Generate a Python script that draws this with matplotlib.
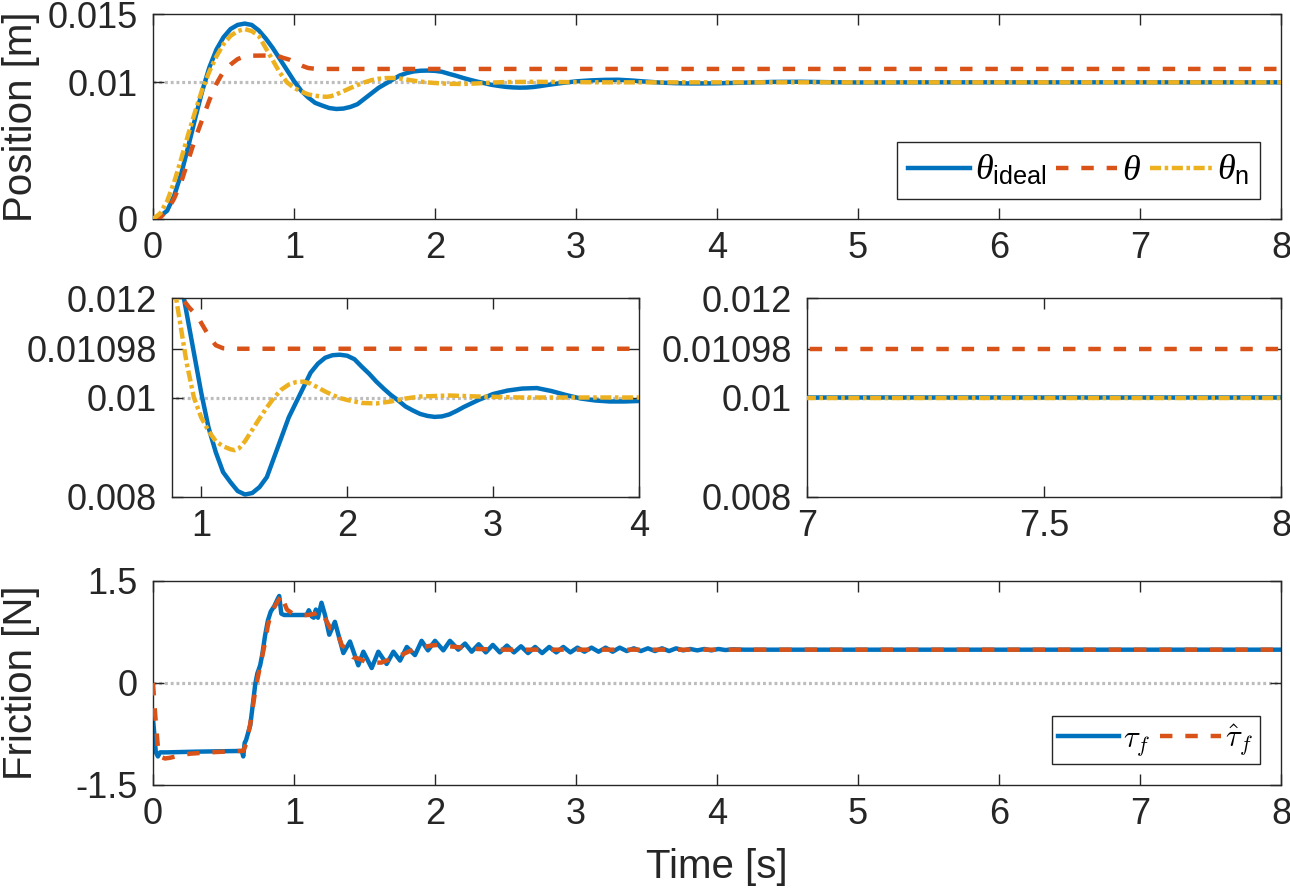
import matplotlib
matplotlib.use("Agg")
import matplotlib.pyplot as plt
from matplotlib.font_manager import FontProperties

# ---------------- data ----------------
t_ideal = [0.00, 0.05, 0.10, 0.15, 0.20, 0.25, 0.30, 0.35, 0.40, 0.45, 0.50, 0.55, 0.60, 0.65,
           0.70, 0.75, 0.80, 0.85, 0.90, 0.95, 1.00, 1.05, 1.10, 1.15, 1.20, 1.25, 1.30, 1.35,
           1.40, 1.45, 1.50, 1.55, 1.60, 1.65, 1.70, 1.75, 1.80, 1.85, 1.90, 1.95, 2.00, 2.05,
           2.10, 2.15, 2.20, 2.25, 2.30, 2.35, 2.40, 2.45, 2.50, 2.55, 2.60, 2.65, 2.70, 2.75,
           2.80, 2.90, 3.00, 3.10, 3.20, 3.30, 3.40, 3.50, 3.60, 3.70, 3.80, 3.90, 4.00, 4.20,
           4.40, 4.60, 4.80, 5.00, 5.50, 8.00]
theta_ideal = [0.0000, 0.0002, 0.0006, 0.0017, 0.0033, 0.0053, 0.0074, 0.0094, 0.0111, 0.0124,
               0.0133, 0.0139, 0.0142, 0.0143, 0.0142, 0.0138, 0.0132, 0.0125, 0.0117, 0.0109,
               0.0101, 0.0094, 0.0089, 0.0085, 0.0083, 0.00812, 0.00805, 0.00808, 0.0082, 0.0084,
               0.0088, 0.0092, 0.0096, 0.0099, 0.0102, 0.0105, 0.01068, 0.0108, 0.01085, 0.01086,
               0.01084, 0.01077, 0.01062, 0.01048, 0.01032, 0.01018, 0.01005, 0.00994, 0.00982,
               0.00974, 0.00967, 0.00963, 0.00961, 0.00962, 0.00966, 0.00973, 0.00981, 0.00995,
               0.01007, 0.01014, 0.01018, 0.01019, 0.01013, 0.01005, 0.00998, 0.00994, 0.00992,
               0.00992, 0.00993, 0.00998, 0.01003, 0.01004, 0.01001, 0.00999, 0.01000, 0.01000]

t_theta = [0.00, 0.05, 0.10, 0.15, 0.20, 0.25, 0.30, 0.35, 0.40, 0.45, 0.50, 0.55, 0.60, 0.65,
           0.70, 0.80, 0.88, 0.92, 0.97, 1.02, 1.06, 1.10, 1.15, 1.20, 8.00]
theta = [0.0000, 0.0001, 0.0006, 0.0015, 0.0027, 0.0043, 0.0059, 0.0073, 0.0087, 0.0099, 0.0108,
         0.0113, 0.0117, 0.0119, 0.01195, 0.01196, 0.01195, 0.0118, 0.01165, 0.0114, 0.0112,
         0.01105, 0.01099, 0.01098, 0.01098]

t_n = [0.00, 0.05, 0.10, 0.15, 0.20, 0.25, 0.30, 0.35, 0.40, 0.45, 0.50, 0.55, 0.60, 0.65, 0.70,
       0.75, 0.80, 0.85, 0.90, 0.95, 1.00, 1.05, 1.10, 1.15, 1.20, 1.23, 1.26, 1.30, 1.35, 1.40,
       1.45, 1.50, 1.55, 1.60, 1.65, 1.70, 1.75, 1.80, 1.85, 1.90, 1.95, 2.00, 2.10, 2.20, 2.30,
       2.40, 2.50, 2.70, 2.90, 3.20, 8.00]
theta_n = [0.0000, 0.0004, 0.0013, 0.0027, 0.0044, 0.0062, 0.0079, 0.0095, 0.0108, 0.0119,
           0.0128, 0.0134, 0.01375, 0.0139, 0.01375, 0.0134, 0.0125, 0.0116, 0.0107, 0.0100,
           0.0096, 0.00933, 0.00912, 0.00902, 0.00896, 0.00894, 0.00898, 0.00912, 0.00935,
           0.00958, 0.00980, 0.01000, 0.01016, 0.01026, 0.01031, 0.01032, 0.01028, 0.01020,
           0.01012, 0.01005, 0.00999, 0.00995, 0.00989, 0.00988, 0.00992, 0.00998, 0.01002,
           0.01004, 0.01002, 0.01000, 0.01000]

theta_ref = 0.01

t_fric = [0.000, 0.020, 0.035, 0.050, 0.100, 0.300, 0.600, 0.630, 0.640, 0.650, 0.660, 0.690,
          0.710, 0.725, 0.740, 0.760, 0.775, 0.795, 0.815, 0.835, 0.860, 0.885, 0.895, 0.910,
          0.930, 1.090, 1.105, 1.125, 1.140, 1.155, 1.170, 1.195, 1.220, 1.250, 1.290, 1.350,
          1.397, 1.456, 1.492, 1.551, 1.598, 1.657, 1.705, 1.752, 1.800, 1.858, 1.905, 1.950,
          2.000, 2.059, 2.106, 2.165, 2.213, 2.260, 2.310, 2.360, 2.410, 2.460, 2.510, 2.560,
          2.610, 2.660, 2.710, 2.760, 2.810, 2.860, 2.910, 2.960, 3.010, 3.060, 3.110, 3.160,
          3.210, 3.260, 3.310, 3.360, 3.410, 3.460, 3.510, 3.560, 3.610, 3.660, 3.710, 3.760,
          3.810, 3.860, 3.910, 3.960, 4.010, 4.060, 4.110, 4.200, 8.000]
tau_f = [-0.52, -1.02, -1.08, -1.02, -1.02, -1.01, -1.00, -1.00, -1.08, -0.88, -0.84, -0.62,
         -0.28, -0.02, 0.14, 0.26, 0.42, 0.70, 0.92, 1.05, 1.13, 1.24, 1.28, 1.02,
         1.00, 1.00, 1.07, 0.98, 0.96, 1.08, 0.96, 1.18, 1.00, 0.71, 0.90, 0.44,
         0.61, 0.26, 0.46, 0.22, 0.46, 0.28, 0.46, 0.33, 0.53, 0.41, 0.62, 0.48,
         0.62, 0.48, 0.62, 0.49, 0.58, 0.46, 0.57, 0.45, 0.56, 0.45, 0.55, 0.45,
         0.54, 0.44, 0.53, 0.44, 0.53, 0.45, 0.53, 0.45, 0.52, 0.46, 0.52, 0.46,
         0.52, 0.46, 0.52, 0.47, 0.51, 0.47, 0.51, 0.47, 0.51, 0.47, 0.51, 0.48,
         0.50, 0.48, 0.50, 0.48, 0.50, 0.485, 0.495, 0.49, 0.49]

t_hat = [0.000, 0.015, 0.035, 0.060, 0.085, 0.120, 0.180, 0.260, 0.400, 0.600, 0.640, 0.660,
         0.690, 0.715, 0.735, 0.760, 0.790, 0.815, 0.840, 0.870, 0.900, 0.915, 0.930, 0.950,
         0.990, 1.050, 1.100, 1.150, 1.190, 1.220, 1.260, 1.300, 1.340, 1.380, 1.420, 1.470,
         1.520, 1.570, 1.620, 1.670, 1.720, 1.770, 1.820, 1.870, 1.920, 1.970, 2.020, 2.100,
         2.200, 2.300, 2.500, 8.000]
tau_hat = [0.00, -0.45, -0.95, -1.09, -1.11, -1.10, -1.07, -1.04, -1.02, -1.00, -1.00, -0.90,
           -0.60, -0.25, 0.00, 0.25, 0.55, 0.85, 1.04, 1.15, 1.25, 1.30, 1.18, 1.08,
           1.02, 1.00, 1.00, 1.02, 1.06, 0.95, 0.80, 0.78, 0.55, 0.50, 0.38, 0.35,
           0.30, 0.30, 0.30, 0.34, 0.38, 0.42, 0.47, 0.50, 0.53, 0.55, 0.56, 0.54,
           0.52, 0.50, 0.49, 0.49]

fric_ref = 0.0

legend_top = [r'$\theta_{\mathrm{ideal}}$', r'$\theta$', r'$\theta_{\mathrm{n}}$']
legend_bot = [r'$\tau_f$', r'$\hat{\tau}_f$']

# ---------------- style ----------------
C_BLUE = '#0072BD'
C_RED = '#D95319'
C_YEL = '#EDB120'
C_GRAY = '#BDBDBD'
C_AX = '#262626'
FONT = 'Liberation Sans'

plt.rcParams['font.family'] = [FONT, 'DejaVu Sans']
plt.rcParams['mathtext.fontset'] = 'custom'
plt.rcParams['mathtext.rm'] = 'Liberation Sans'
plt.rcParams['mathtext.it'] = 'Liberation Serif:italic'
plt.rcParams['mathtext.bf'] = 'Liberation Sans:bold'

LW = 3.2
DASH = (0, (2.8, 2.9))
DASHDOT = (0, (2.5, 0.8, 0.8, 0.8))
DOT = (0, (0.9, 0.9))

W, H = 1290, 890
fig = plt.figure(figsize=(W / 100, H / 100), dpi=100)


def rect(l, r, t, b):
    return [l / W, 1 - b / H, (r - l) / W, (b - t) / H]


ax1 = fig.add_axes(rect(153, 1281, 14, 219))
ax2 = fig.add_axes(rect(172, 639, 298, 497))
ax3 = fig.add_axes(rect(807, 1281, 298, 497))
ax4 = fig.add_axes(rect(153, 1281, 581, 785))


def style(ax):
    for s in ax.spines.values():
        s.set_color(C_AX)
        s.set_linewidth(1.0)
    ax.tick_params(direction='in', length=8, width=1.0, colors=C_AX,
                   top=True, right=True, labelsize=26, pad=9)
    ax.tick_params(axis='y', pad=11)
    for lab in ax.get_xticklabels() + ax.get_yticklabels():
        lab.set_fontfamily(FONT)


def pos_lines(ax):
    ax.plot([0, 8], [theta_ref, theta_ref], color=C_GRAY, lw=2.3, ls=DOT, zorder=1)
    l1, = ax.plot(t_ideal, theta_ideal, color=C_BLUE, lw=LW, zorder=2)
    l2, = ax.plot(t_theta, theta, color=C_RED, lw=LW, ls=DASH, zorder=3)
    l3, = ax.plot(t_n, theta_n, color=C_YEL, lw=LW, ls=DASHDOT, zorder=4)
    return l1, l2, l3


# top
h = pos_lines(ax1)
ax1.set_xlim(0, 8)
ax1.set_ylim(0, 0.015)
ax1.set_xticks(range(0, 9))
ax1.set_xticklabels([str(i) for i in range(0, 9)])
ax1.set_yticks([0, 0.01, 0.015])
ax1.set_yticklabels(['0', '0.01', '0.015'])
ax1.set_ylabel('Position [m]', fontsize=29, color=C_AX, fontfamily=FONT)
ax1.yaxis.set_label_coords(-0.1005, 0.5)
style(ax1)
leg1 = ax1.legend(h, legend_top, ncol=3, loc='lower right',
                  bbox_to_anchor=((1260 - 153) / 1128, (219 - 199) / 205),
                  borderaxespad=0, frameon=True, fancybox=False, framealpha=1,
                  edgecolor=C_AX, handlelength=1.7, handletextpad=0.15,
                  columnspacing=0.25, borderpad=0.3,
                  prop=FontProperties(family=FONT, size=26, math_fontfamily='custom'))
leg1.get_frame().set_linewidth(1.0)

# middle left
pos_lines(ax2)
ax2.set_xlim(0.8, 4)
ax2.set_ylim(0.008, 0.012)
ax2.set_xticks([1, 2, 3, 4])
ax2.set_xticklabels(['1', '2', '3', '4'])
ax2.set_yticks([0.008, 0.01, 0.01098, 0.012])
ax2.set_yticklabels(['0.008', '0.01', '0.01098', '0.012'])
style(ax2)

# middle right
pos_lines(ax3)
ax3.set_xlim(7, 8)
ax3.set_ylim(0.008, 0.012)
ax3.set_xticks([7, 7.5, 8])
ax3.set_xticklabels(['7', '7.5', '8'])
ax3.set_yticks([0.008, 0.01, 0.01098, 0.012])
ax3.set_yticklabels(['0.008', '0.01', '0.01098', '0.012'])
style(ax3)

# bottom
ax4.plot([0, 8], [fric_ref, fric_ref], color=C_GRAY, lw=2.3, ls=DOT, zorder=1)
b1, = ax4.plot(t_fric, tau_f, color=C_BLUE, lw=LW, zorder=2)
b2, = ax4.plot(t_hat, tau_hat, color=C_RED, lw=LW, ls=DASH, zorder=3)
ax4.set_xlim(0, 8)
ax4.set_ylim(-1.5, 1.5)
ax4.set_xticks(range(0, 9))
ax4.set_xticklabels([str(i) for i in range(0, 9)])
ax4.set_yticks([-1.5, 0, 1.5])
ax4.set_yticklabels(['-1.5', '0', '1.5'])
ax4.set_ylabel('Friction [N]', fontsize=29, color=C_AX, fontfamily=FONT)
ax4.yaxis.set_label_coords(-0.1005, 0.5)
ax4.set_xlabel('Time [s]', fontsize=29, color=C_AX, fontfamily=FONT, labelpad=11)
style(ax4)
leg2 = ax4.legend([b1, b2], legend_bot, ncol=2, loc='lower right',
                  bbox_to_anchor=((1260 - 153) / 1128, (785 - 764) / 204),
                  borderaxespad=0, frameon=True, fancybox=False, framealpha=1,
                  edgecolor=C_AX, handlelength=2.0, handletextpad=0.15,
                  columnspacing=0.3, borderpad=0.2,
                  prop=FontProperties(family=FONT, size=22, math_fontfamily='cm'))
leg2.get_frame().set_linewidth(1.0)

fig.savefig('out.png', dpi=100, facecolor='white')
